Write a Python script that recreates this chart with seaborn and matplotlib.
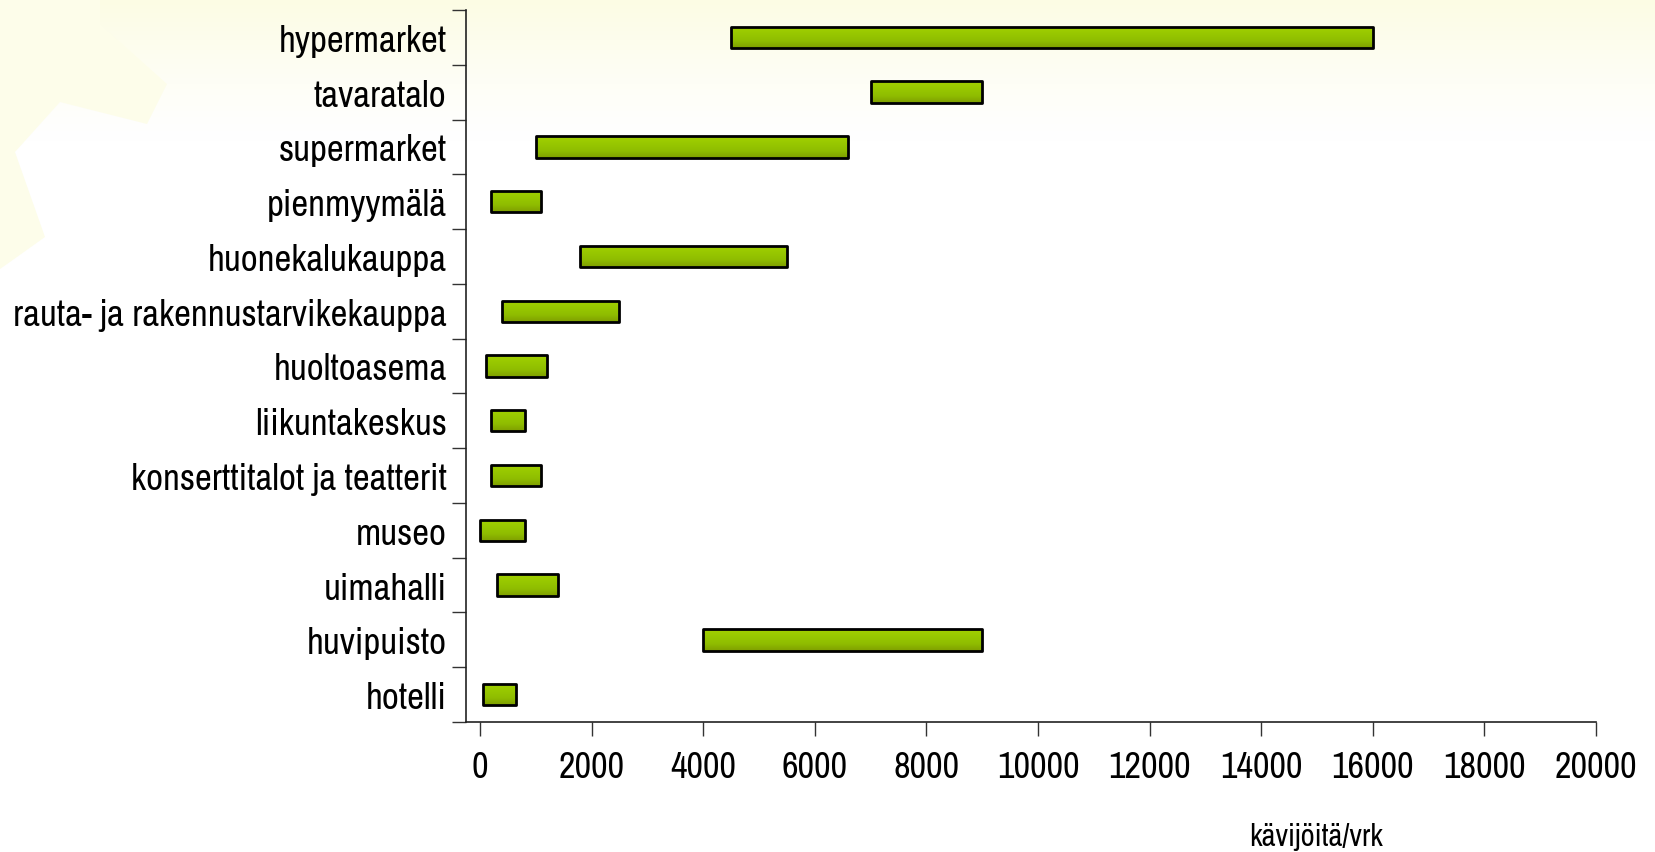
import numpy as np
import pandas as pd
import matplotlib
matplotlib.use("Agg")
import matplotlib.pyplot as plt
from matplotlib import font_manager
from matplotlib.colors import LinearSegmentedColormap
from matplotlib.patches import Polygon
import seaborn as sns

# Visitor ranges per day by facility type
categories = [
    "hypermarket", "tavaratalo", "supermarket", "pienmyymälä",
    "huonekalukauppa", "rauta- ja rakennustarvikekauppa", "huoltoasema",
    "liikuntakeskus", "konserttitalot ja teatterit", "museo", "uimahalli",
    "huvipuisto", "hotelli",
]
range_start = [4500, 7000, 1000, 200, 1800, 400, 100, 200, 200, 0, 300, 4000, 50]
range_end = [16000, 9000, 6600, 1100, 5500, 2500, 1200, 800, 1100, 800, 1400, 9000, 650]
x_ticks = [0, 2000, 4000, 6000, 8000, 10000, 12000, 14000, 16000, 18000, 20000]
x_label = "kävijöitä/vrk"

df = pd.DataFrame({"kategoria": categories, "alku": range_start, "loppu": range_end})
df["pituus"] = df["loppu"] - df["alku"]

sns.set_theme(style="white")
installed = sorted({f.name for f in font_manager.fontManager.ttflist})
condensed = [n for n in installed if ("Narrow" in n or "Condensed" in n)]
narrow = len(condensed) > 0
family = condensed[0] if narrow else "Liberation Sans"
plt.rcParams["font.family"] = [family, "DejaVu Sans"]
y_size = 26.5 if narrow else 22
x_size = 26 if narrow else 21.5
xl_size = 22 if narrow else 18

W, H = 1656, 853
fig = plt.figure(figsize=(W / 100, H / 100), dpi=100)
fig.patch.set_facecolor("white")

# soft yellow backdrop: fading top band plus a faint decorative shape
bg = fig.add_axes([0, 0, 1, 1], zorder=-10)
bg.set_xlim(0, W)
bg.set_ylim(H, 0)
bg.axis("off")
fade = np.clip(1 - np.linspace(0, H, 400) / 140.0, 0, 1) ** 1.2
rgba = np.ones((400, 1, 4))
top = np.array([252, 252, 228]) / 255.0
for c in range(3):
    rgba[:, 0, c] = 1 - (1 - top[c]) * fade
bg.imshow(rgba, extent=[0, W, H, 0], aspect="auto", zorder=0)
shape = [(0, 0), (100, 0), (100, 25), (167, 85), (147, 125), (60, 103),
         (15, 153), (45, 238), (10, 263), (0, 270)]
bg.add_patch(Polygon(shape, closed=True, facecolor="#fdfdea", edgecolor="none", zorder=1))

ax = fig.add_axes([466 / W, 1 - 723 / H, (1596 - 466) / W, (723 - 11) / H])
ax.set_facecolor("none")

sns.barplot(data=df, x="pituus", y="kategoria", left=df["alku"].to_numpy(),
            order=categories, orient="h", width=0.39, color="#8fbf00",
            edgecolor="black", linewidth=2.0, ax=ax, zorder=3)

# vertical green gradient inside each bar
cmap = LinearSegmentedColormap.from_list(
    "bar", ["#a3d000", "#98c800", "#8fbd00", "#7f9f00"])
grad = np.linspace(0, 1, 64).reshape(-1, 1)
for p in list(ax.patches):
    x0, y0 = p.get_x(), p.get_y()
    w, h = p.get_width(), p.get_height()
    im = ax.imshow(grad, cmap=cmap, aspect="auto",
                   extent=[x0, x0 + w, y0 + h, y0], zorder=2.5,
                   interpolation="bilinear")
    im.set_clip_path(p)
    p.set_facecolor("none")
    p.set_joinstyle("round")
ax.set_xlim(-250, 20000)
ax.set_ylim(len(categories) - 0.5, -0.5)

# spines and ticks
for s in ["top", "right"]:
    ax.spines[s].set_visible(False)
for s in ["left", "bottom"]:
    ax.spines[s].set_color("#222222")
    ax.spines[s].set_linewidth(1.2)

ax.set_xticks(x_ticks)
ax.set_xticklabels([str(v) for v in x_ticks], fontsize=x_size, color="black")
ax.tick_params(axis="x", direction="out", length=10, width=1.0, color="#333333", pad=10,
               bottom=True)
ax.set_yticks(range(len(categories)))
ax.set_yticklabels(categories, fontsize=y_size, color="black")
ax.tick_params(axis="y", length=0, pad=14)
ax.set_yticks(np.arange(-0.5, len(categories)), minor=True)
ax.tick_params(axis="y", which="minor", direction="out", length=10, width=1.0,
               color="#333333", left=True)
ax.set_xlabel("")
ax.set_ylabel("")
ax.grid(False)

fig.text(1316 / W, 1 - 837 / H, x_label, fontsize=xl_size, ha="center", va="center",
         color="black")

fig.savefig("out.png", dpi=100)
